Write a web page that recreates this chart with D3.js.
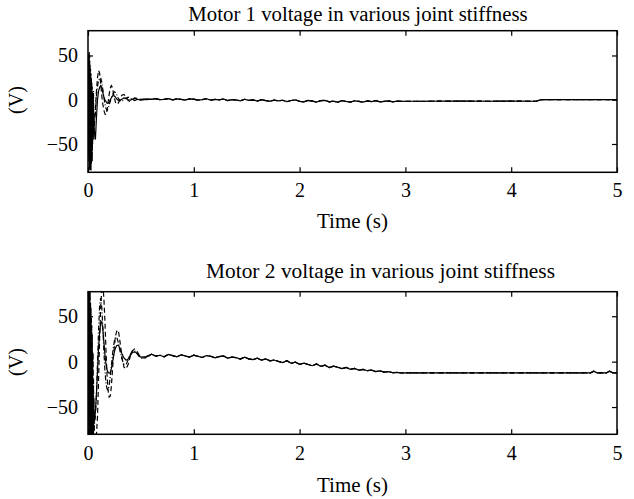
<!DOCTYPE html>
<html>
<head>
<meta charset="utf-8">
<script src="https://cdn.jsdelivr.net/npm/d3@7"></script>
<style>
  html, body { margin: 0; padding: 0; background: #fff; }
  svg { display: block; }
  text { font-family: "Liberation Serif", "Times New Roman", serif; fill: #000; }
</style>
</head>
<body>
<svg id="chart" width="634" height="499"></svg>
<script>
// ---- data -------------------------------------------------------------
// Start-up transient, sampled finely (s)
const timeTransient = [
  0, 0.004, 0.008, 0.012, 0.016, 0.02, 0.024, 0.028, 0.032, 0.036, 0.04, 0.044, 0.048, 0.052, 0.056, 0.06,
  0.07, 0.08, 0.09, 0.1, 0.11, 0.12, 0.13, 0.14, 0.15, 0.16, 0.17, 0.18, 0.19, 0.2, 0.21, 0.22, 0.23, 0.24,
  0.25, 0.26, 0.27, 0.28, 0.29, 0.3,
  0.32, 0.34, 0.36, 0.38, 0.4, 0.42, 0.44, 0.46, 0.48, 0.5,
  0.55
];
// Settling period (s)
const timeSettled = [
  0.60, 0.64, 0.68, 0.72, 0.76, 0.80, 0.84, 0.88, 0.92, 0.96,
  1.00, 1.04, 1.08, 1.12, 1.16, 1.20, 1.24, 1.28, 1.32, 1.36,
  1.40, 1.44, 1.48, 1.52, 1.56, 1.60, 1.64, 1.68, 1.72, 1.76,
  1.80, 1.84, 1.88, 1.92, 1.96, 2.00, 2.04, 2.08, 2.12, 2.16,
  2.20, 2.24, 2.28, 2.32, 2.36, 2.40, 2.44, 2.48, 2.52, 2.56,
  2.60, 2.64, 2.68, 2.72, 2.76, 2.80, 2.84, 2.88, 2.92, 2.96,
  3.00
];

// Motor 1 voltage (V), three joint stiffness settings
const motor1Solid = [
  0, 52, -70, 45, -78, 30, -65, 20, -72, 10, -55, 5, -45, -10, -30, -35,
  -45, -20, 0, 10, 14, 16, 14, 8, 3, 0, -2, -4, -4, -3, 0, 2, 4, 5, 4, 3, 1, 0, -1, -1,
  0.5, 2, 1.5, 0, -0.5, 0.5, 1.5, 1, 0, 0.5,
  1
];
const motor1Dashed = [
  0, -60, 40, -80, 50, -75, 35, -80, 25, -60, 15, -50, 5, -40, -20, -30,
  -10, 10, 25, 33, 30, 18, 5, -5, -12, -16, -17, -12, -3, 6, 13, 16, 14, 8, 2, -3, -5, -5, -3, 0,
  5, 6, 3, -1, -2, 0, 2, 1.5, 0, -0.5,
  0.5
];
const motor1DashDot = [
  0, 30, -55, 55, -60, 40, -80, 30, -50, 20, -70, 0, -35, 10, -45, -25,
  -15, 5, 15, 22, 24, 25, 20, 12, 3, -5, -10, -12, -10, -6, -2, 2, 5, 8, 9, 8, 6, 3, 1, -1,
  -2, 0, 2, 3, 2, 0, -1, 0, 1, 0.5,
  0
];
const motor1Settled = [
  0.5, 1.2, 0.1, 0.4, 1.3, -0.2, 0.9, 0.3, -0.3, 1.0,
  0.6, -0.4, 0.2, 1.1, -0.5, 0.4, -0.1, 0.8, -0.9, 0.2,
  -0.3, -1.2, 0.5, -0.8, -0.2, -1.5, 0.1, -1.0, -1.7, -0.4,
  -1.3, -0.6, -2.1, -0.9, -0.2, -1.8, -2.4, -0.8, -1.5, -2.6,
  -1.1, -0.7, -2.3, -1.6, -2.8, -1.0, -2.0, -2.7, -1.2, -1.9,
  -2.6, -1.4, -2.2, -1.1, -2.5, -1.8, -1.3, -2.3, -1.6, -1.9,
  -1.7
];
const motor1TailTime = [3.2, 3.5, 3.8, 4.0, 4.2, 4.24, 4.27, 4.3, 4.6, 5.0];
const motor1Tail     = [-1.7, -1.6, -1.7, -1.6, -1.7, -1.6, -0.3, 0.2, 0.1, 0.1];

// Motor 2 voltage (V), three joint stiffness settings
const motor2Solid = [
  0, 70, -80, 60, -80, 40, -80, 20, -75, 0, -80, -30, -65, -50, -60, -65,
  -55, -35, -10, 15, 32, 42, 44, 36, 22, 8, -3, -9, -12, -12.5, -12, -8, -2, 5, 11, 15, 17.5, 18, 17.5, 15,
  9, 4, 1.5, 3, 7, 10, 10.8, 9.5, 7, 5,
  5.5
];
const motor2Dashed = [
  0, -70, 77, -80, 77, -80, 65, -80, 50, -80, 30, -80, 10, -80, -40, -80,
  -80, -80, -60, -20, 25, 60, 80, 85, 70, 45, 12, -15, -32, -39, -38, -28, -12, 5, 18, 28, 33, 35, 32, 24,
  6, -6, -8, -3, 6, 12, 14, 12, 8, 4,
  4
];
const motor2DashDot = [
  0, 77, -60, 77, -70, 77, -80, 60, -80, 40, -70, 10, -80, -20, -75, -70,
  -60, -35, 0, 35, 62, 70, 60, 38, 12, -10, -24, -30, -31, -26, -17, -6, 6, 16, 23, 27, 27, 24, 19, 13,
  3, -3, -3, 2, 8, 12, 12, 9.5, 6, 4,
  5
];
const motor2Settled = [
  8.2, 6.1, 7.0, 5.4, 8.0, 6.6, 5.3, 7.5, 6.2, 5.0,
  7.1, 5.8, 4.6, 6.7, 5.9, 4.2, 5.6, 6.3, 3.8, 5.0,
  4.4, 2.9, 4.9, 3.1, 2.2, 3.9, 1.6, 3.0, 0.9, 1.8,
  0.2, -1.0, 1.0, -1.8, -0.6, -2.9, -1.6, -3.2, -4.5, -2.6,
  -5.2, -3.9, -6.5, -5.0, -6.2, -7.6, -6.4, -8.4, -7.5, -9.3,
  -8.6, -10.0, -9.4, -10.9, -10.2, -11.5, -11.0, -12.2, -11.8, -12.5,
  -12.3
];
const motor2TailTime = [3.2, 3.5, 3.8, 4.0, 4.3, 4.6, 4.75, 4.78, 4.81, 4.9, 4.93, 4.96, 5.0];
const motor2Tail     = [-12.3, -12.3, -12.3, -12.3, -12.3, -12.3, -12.3, -10.6, -12.3, -12.3, -10.6, -12.3, -12.3];

// Axes
const xTicks = [0, 1, 2, 3, 4, 5];
const yTicks = [-50, 0, 50];
const titles = ["Motor 1 voltage in various joint stiffness", "Motor 2 voltage in various joint stiffness"];
const xLabel = "Time (s)";
const yLabel = "(V)";

// ---- drawing ---------------------------------------------------------
const svg = d3.select("#chart");

const panels = [
  {
    title: titles[0], titleX: 358, titleY: 21, titleSize: 20.8,
    top: 30.7, bottom: 172.3, yDomain: [-82, 78],
    tickLabelY: 197, xLabelY: 228, yLabelY: 100,
    series: [
      { values: motor1Solid, dash: null },
      { values: motor1Dashed, dash: "5,3" },
      { values: motor1DashDot, dash: "5,2,1,2" }
    ],
    settled: motor1Settled, tailTime: motor1TailTime, tail: motor1Tail
  },
  {
    title: titles[1], titleX: 380.5, titleY: 278, titleSize: 21.4,
    top: 291.7, bottom: 434.3, yDomain: [-80, 77],
    tickLabelY: 460.5, xLabelY: 492, yLabelY: 362,
    series: [
      { values: motor2Solid, dash: null },
      { values: motor2Dashed, dash: "5,3" },
      { values: motor2DashDot, dash: "5,2,1,2" }
    ],
    settled: motor2Settled, tailTime: motor2TailTime, tail: motor2Tail
  }
];

const left = 88, right = 617;
const x = d3.scaleLinear().domain([0, 5]).range([left, right]);

panels.forEach((p, i) => {
  const y = d3.scaleLinear().domain(p.yDomain).range([p.bottom, p.top]);
  const g = svg.append("g");

  const clipId = "clip" + i;
  svg.append("clipPath").attr("id", clipId)
    .append("rect")
    .attr("x", left).attr("y", p.top)
    .attr("width", right - left).attr("height", p.bottom - p.top);

  const line = d3.line().x(d => x(d[0])).y(d => y(d[1]));

  const plot = g.append("g").attr("clip-path", `url(#${clipId})`);
  p.series.forEach(s => {
    const pts = timeTransient.map((t, k) => [t, s.values[k]])
      .concat(timeSettled.map((t, k) => [t, p.settled[k]]))
      .concat(p.tailTime.map((t, k) => [t, p.tail[k]]));
    plot.append("path")
      .attr("d", line(pts))
      .attr("fill", "none")
      .attr("stroke", "#000")
      .attr("stroke-width", 1.2)
      .attr("stroke-dasharray", s.dash);
  });

  // axes with inward ticks on all four sides
  const axB = g.append("g").attr("transform", `translate(0,${p.bottom})`)
    .call(d3.axisBottom(x).tickValues(xTicks).tickFormat(d3.format("d")).tickSize(-5).tickSizeOuter(0).tickPadding(10.5));
  const axT = g.append("g").attr("transform", `translate(0,${p.top})`)
    .call(d3.axisTop(x).tickValues(xTicks).tickFormat("").tickSize(-5).tickSizeOuter(0));
  const axL = g.append("g").attr("transform", `translate(${left},0)`)
    .call(d3.axisLeft(y).tickValues(yTicks).tickSize(-5).tickSizeOuter(0).tickPadding(10));
  const axR = g.append("g").attr("transform", `translate(${right},0)`)
    .call(d3.axisRight(y).tickValues(yTicks).tickFormat("").tickSize(-5).tickSizeOuter(0));

  [axB, axT, axL, axR].forEach(a => {
    a.select(".domain").remove();
    a.selectAll("line").attr("stroke", "#000").attr("stroke-width", 1.2);
    a.selectAll("text").attr("font-size", 20).attr("font-family", "Liberation Serif");
  });
  axB.selectAll("text").attr("dy", null).attr("y", p.tickLabelY - p.bottom);

  g.append("rect")
    .attr("x", left).attr("y", p.top)
    .attr("width", right - left).attr("height", p.bottom - p.top)
    .attr("fill", "none").attr("stroke", "#000").attr("stroke-width", 1.5);

  g.append("text")
    .attr("x", p.titleX).attr("y", p.titleY)
    .attr("text-anchor", "middle").attr("font-size", p.titleSize)
    .text(p.title);

  g.append("text")
    .attr("x", (left + right) / 2).attr("y", p.xLabelY)
    .attr("text-anchor", "middle").attr("font-size", 21)
    .text(xLabel);

  g.append("text")
    .attr("transform", `translate(23,${p.yLabelY}) rotate(-90)`)
    .attr("text-anchor", "middle").attr("font-size", 20)
    .text(yLabel);
});
</script>
</body>
</html>
